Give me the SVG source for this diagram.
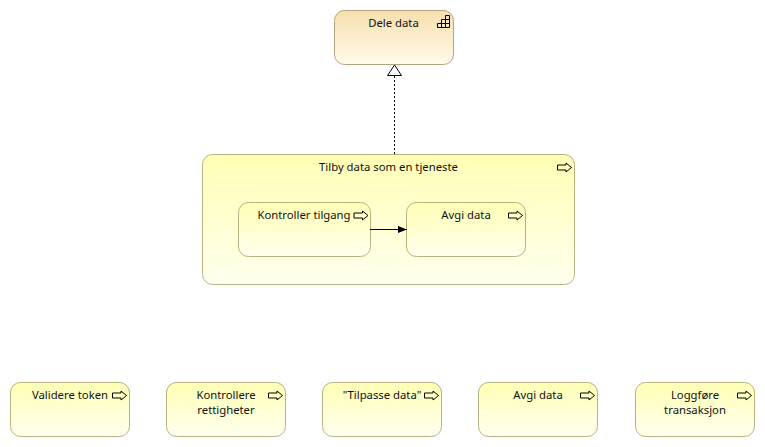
<svg xmlns="http://www.w3.org/2000/svg" width="765" height="447" viewBox="0 0 765 447">
<style>
text{font-family:"Noto Sans","Open Sans","Liberation Sans",sans-serif;font-size:11.3px;fill:#111;text-anchor:middle}
.b{stroke:#b5b27f;stroke-width:1;fill:url(#y)}
.i{fill:none;stroke:#000;stroke-width:1}
.c{fill:none;stroke:#000;stroke-width:1}
</style>
<defs>
<linearGradient id="y" x1="0" y1="0" x2="0" y2="1"><stop offset="0" stop-color="#ffffb5"/><stop offset="1" stop-color="#ffffef"/></linearGradient>
<linearGradient id="o" x1="0" y1="0" x2="0" y2="1"><stop offset="0" stop-color="#f6dfae"/><stop offset="1" stop-color="#fffaea"/></linearGradient>
<path id="a" d="M0.500 2.500H9V0.500L14.500 5L9 9.500V7.500H0.500Z"/>
<marker id="tri" markerUnits="userSpaceOnUse" markerWidth="14" markerHeight="16" refX="12" refY="8" orient="auto"><path d="M1.500 1L12 8L1.500 15Z" fill="#fff" stroke="#000"/></marker>
<marker id="fill" markerUnits="userSpaceOnUse" markerWidth="10" markerHeight="8" refX="9" refY="4" orient="auto"><path d="M0 0.500L9 4L0 7.500Z" fill="#000"/></marker>
</defs>
<g id="dele-data"><rect x="334.500" y="10.500" width="119" height="54" rx="10" fill="url(#o)" stroke="#b5a27f"/><text x="393.500" y="27">Dele data</text><path class="c" d="M437.500 27.500H449.500V15.500H445.500V19.500H441.500V23.500H437.500ZM441.500 23.500V27.500M445.500 19.500V27.500M441.500 23.500H449.500M445.500 19.500H449.500"/></g>
<g id="tilby-data"><rect class="b" x="202.500" y="154.500" width="372" height="130" rx="10"/><text x="388.500" y="171">Tilby data som en tjeneste</text><use href="#a" class="i" x="557" y="162.500"/></g>
<g id="kontroller-tilgang"><rect class="b" x="238.500" y="202.500" width="132" height="54" rx="10"/><text x="304" y="219">Kontroller tilgang</text><use href="#a" class="i" x="353.500" y="210.500"/></g>
<g id="avgi-data-1"><rect class="b" x="406.500" y="202.500" width="119" height="54" rx="10"/><text x="466" y="219">Avgi data</text><use href="#a" class="i" x="508" y="210.500"/></g>
<g id="validere-token"><rect class="b" x="10.500" y="382.500" width="119" height="54" rx="10"/><text x="70" y="399">Validere token</text><use href="#a" class="i" x="112" y="390.500"/></g>
<g id="kontrollere-rettigheter"><rect class="b" x="166.500" y="382.500" width="119" height="54" rx="10"/><text x="226" y="399">Kontrollere</text><text x="226" y="414">rettigheter</text><use href="#a" class="i" x="268" y="390.500"/></g>
<g id="tilpasse-data"><rect class="b" x="322.500" y="382.500" width="119" height="54" rx="10"/><text x="382" y="399">"Tilpasse data"</text><use href="#a" class="i" x="424" y="390.500"/></g>
<g id="avgi-data-2"><rect class="b" x="478.500" y="382.500" width="119" height="54" rx="10"/><text x="538" y="399">Avgi data</text><use href="#a" class="i" x="580" y="390.500"/></g>
<g id="loggfore-transaksjon"><rect class="b" x="635.500" y="382.500" width="119" height="54" rx="10"/><text x="695" y="399">Loggføre</text><text x="695" y="414">transaksjon</text><use href="#a" class="i" x="737" y="390.500"/></g>
<g id="connectors">
<path class="c" d="M394.500 154V65" stroke-dasharray="2 2" marker-end="url(#tri)"/>
<path class="c" d="M370 229.500H407" marker-end="url(#fill)"/>
</g>
</svg>
